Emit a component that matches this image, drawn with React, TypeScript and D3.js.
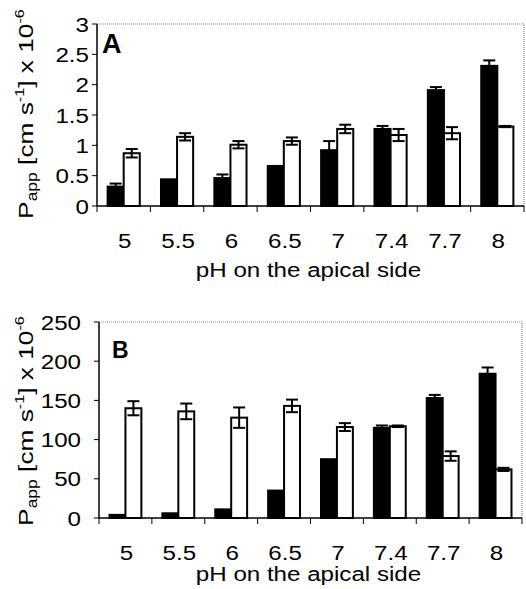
import React from 'react';
import * as d3 from 'd3';

const phLabels = ['5', '5.5', '6', '6.5', '7', '7.4', '7.7', '8'];
const seriesKeys = ['filled', 'open'];

// panel A values (x 10^-6 cm/s)
const aFilled = [0.32, 0.44, 0.46, 0.66, 0.92, 1.27, 1.91, 2.31];
const aFilledErr = [0.05, 0, 0.06, 0, 0.15, 0.05, 0.05, 0.09];
const aOpen = [0.87, 1.14, 1.01, 1.07, 1.27, 1.17, 1.2, 1.31];
const aOpenErr = [0.07, 0.06, 0.06, 0.06, 0.07, 0.1, 0.1, 0.01];
const aTicks = [0, 0.5, 1, 1.5, 2, 2.5, 3];

// panel B values
const bFilled = [4, 6, 11, 35, 75, 115, 153, 184];
const bFilledErr = [0, 0, 0, 0, 0, 3, 4, 8];
const bOpen = [140, 136, 128, 143, 116, 117, 79, 62];
const bOpenErr = [9, 10, 13, 8, 5, 1, 6, 2];
const bTicks = [0, 50, 100, 150, 200, 250];

const font = 'Liberation Sans, Arial, Helvetica, sans-serif';
const stretch = 1.15; // the scanned text is a bit wider than Arial

type PanelProps = {
  letter: string;
  filled: number[];
  filledErr: number[];
  open: number[];
  openErr: number[];
  ticks: number[];
  left: number;
  right: number;
  top: number;
  bottom: number;
  tickLabelX: number;
  xLabelY: number;
  titleY: number;
  labelMid: number;
  letterX: number;
  letterY: number;
  letterSize: number;
};

// text stretched horizontally around its anchor point
function WideText({ x, y, anchor, size, children }: { x: number; y: number; anchor: string; size: number; children: React.ReactNode }) {
  return (
    <text transform={`translate(${x},${y}) scale(${stretch},1)`} textAnchor={anchor} fontSize={size} fontFamily={font}>{children}</text>
  );
}

function Panel(p: PanelProps) {
  const y = d3.scaleLinear().domain([0, p.ticks[p.ticks.length - 1]]).range([p.bottom, p.top]);
  const x0 = d3.scaleBand<string>().domain(phLabels).range([p.left, p.right]).padding(0);
  const x1 = d3.scaleBand<string>().domain(seriesKeys).range([0, x0.bandwidth()]).paddingInner(0).paddingOuter(0.66);
  const bw = x1.bandwidth();
  const boundaries = phLabels.map(c => x0(c) as number).concat([p.right]);

  const bars = phLabels.flatMap((c, i) => [
    { c, key: 'filled', v: p.filled[i], e: p.filledErr[i] },
    { c, key: 'open', v: p.open[i], e: p.openErr[i] },
  ]);

  return (
    <g>
      {/* frame top and right */}
      <path d={`M${p.left},${p.top}H${p.right}V${p.bottom}`} fill="none" stroke="#8a8a8a" strokeWidth={1.2} strokeDasharray="1,1" />
      {bars.map((b, i) => {
        const bx = (x0(b.c) as number) + (x1(b.key) as number);
        return (
          <rect key={'r' + i} x={bx} y={y(b.v)} width={bw} height={p.bottom - y(b.v)}
            fill={b.key === 'filled' ? '#000' : '#fff'} stroke="#000" strokeWidth={2} />
        );
      })}
      {bars.filter(b => b.e > 0).map((b, i) => {
        const cx = (x0(b.c) as number) + (x1(b.key) as number) + bw / 2;
        const hi = y(b.v + b.e);
        const lo = y(b.v - b.e);
        return (
          <g key={'e' + i} stroke="#000" strokeWidth={2}>
            <line x1={cx} x2={cx} y1={hi} y2={lo} />
            <line x1={cx - 6} x2={cx + 6} y1={hi} y2={hi} />
            <line x1={cx - 6} x2={cx + 6} y1={lo} y2={lo} />
          </g>
        );
      })}
      {/* axes */}
      <line x1={p.left} x2={p.right} y1={p.bottom} y2={p.bottom} stroke="#000" strokeWidth={1.5} />
      <line x1={p.left} x2={p.left} y1={p.top} y2={p.bottom} stroke="#000" strokeWidth={1.5} />
      {boundaries.map((bx, i) => (
        <line key={'xt' + i} x1={bx} x2={bx} y1={p.bottom} y2={p.bottom + 6} stroke="#000" strokeWidth={1} />
      ))}
      {p.ticks.map(t => (
        <g key={'yt' + t}>
          <line x1={p.left - 5} x2={p.left} y1={y(t)} y2={y(t)} stroke="#000" strokeWidth={1} />
          <WideText x={p.tickLabelX} y={y(t) + 7.5} anchor="end" size={21}>{t}</WideText>
        </g>
      ))}
      {phLabels.map(c => (
        <WideText key={'xl' + c} x={(x0(c) as number) + x0.bandwidth() / 2 + 1} y={p.xLabelY} anchor="middle" size={21}>{c}</WideText>
      ))}
      <WideText x={(p.left + p.right) / 2 - 2} y={p.titleY} anchor="middle" size={21}>pH on the apical side</WideText>
      <text transform={`translate(33,${p.labelMid}) rotate(-90) scale(1.25,1)`} textAnchor="middle" fontSize={21} fontFamily={font}>
        P<tspan fontSize={14} dy={4}>app</tspan>
        <tspan dy={-4}> [cm s</tspan>
        <tspan fontSize={13} dy={-9}>-1</tspan>
        <tspan dy={9}>] x 10</tspan>
        <tspan fontSize={13} dy={-9}>-6</tspan>
      </text>
      <text x={p.letterX} y={p.letterY} fontSize={p.letterSize} fontWeight="bold" fontFamily={font}>{p.letter}</text>
    </g>
  );
}

export default function App() {
  return (
    <svg width={526} height={589} style={{ position: 'absolute', left: 0, top: 0, background: '#fff' }}>
      <rect width={526} height={589} fill="#fff" />
      <Panel letter="A" filled={aFilled} filledErr={aFilledErr} open={aOpen} openErr={aOpenErr} ticks={aTicks}
        left={97} right={524} top={24} bottom={206} tickLabelX={89} xLabelY={248} titleY={277} labelMid={114}
        letterX={102} letterY={53} letterSize={27} />
      <Panel letter="B" filled={bFilled} filledErr={bFilledErr} open={bOpen} openErr={bOpenErr} ticks={bTicks}
        left={99} right={522} top={322} bottom={518} tickLabelX={81} xLabelY={560} titleY={581} labelMid={421}
        letterX={112} letterY={358} letterSize={23} />
    </svg>
  );
}
